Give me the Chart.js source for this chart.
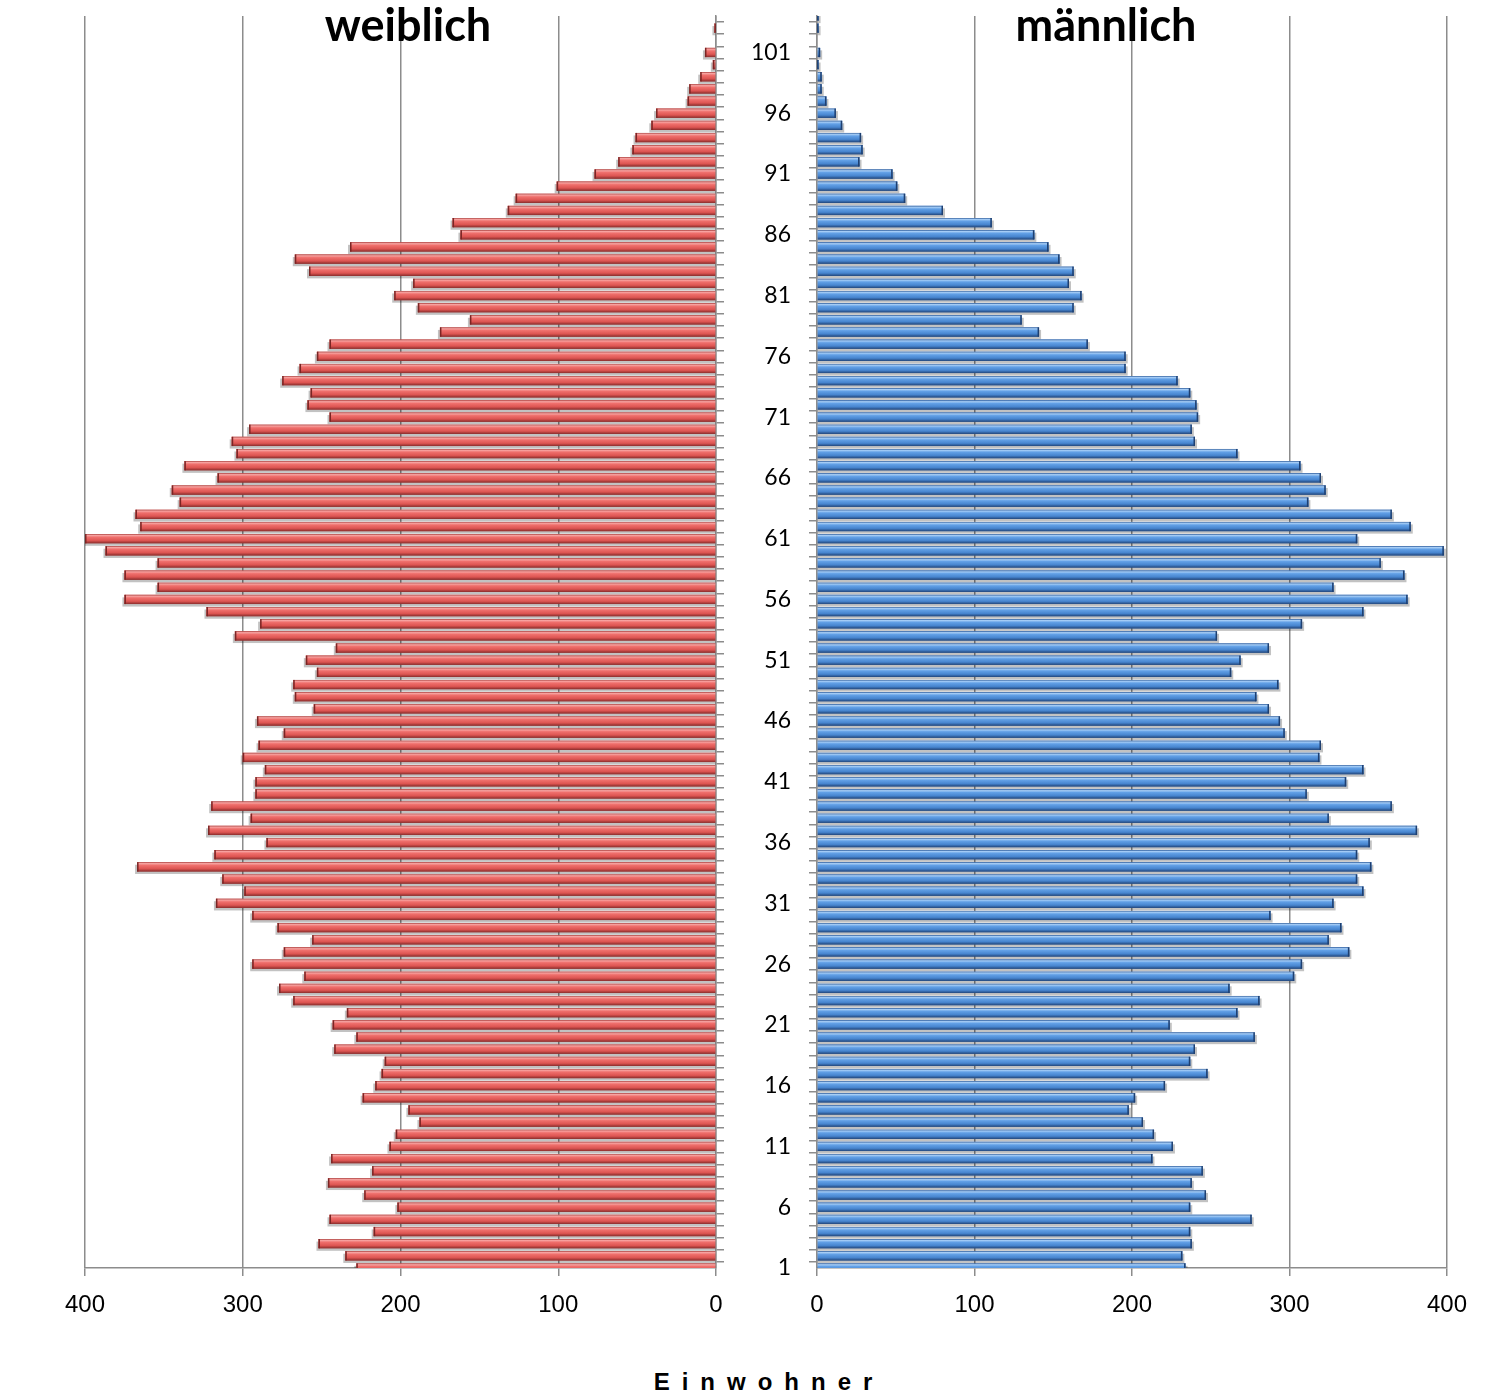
<!DOCTYPE html>
<html>
<head>
<meta charset="utf-8">
<title>Bevölkerungspyramide</title>
<script src="https://cdn.jsdelivr.net/npm/chart.js@4.4.1/dist/chart.umd.min.js"></script>
<style>
  html, body { margin: 0; padding: 0; background: #fff; }
  #page { position: relative; width: 1486px; height: 1398px; overflow: hidden; }
  .box { position: absolute; top: 0; height: 1340px; }
  #leftBox { left: 0; width: 740px; }
  #rightBox { left: 740px; width: 746px; }
  .sideTitle {
    position: absolute; top: -2px; transform: translateX(-50%);
    font-family: Lato, "Open Sans", sans-serif; font-weight: bold;
    font-size: 45px; line-height: 52px; color: #000; white-space: nowrap;
  }
  #axisTitle {
    position: absolute; left: 763px; top: 1367px; transform: translateX(-50%);
    font-family: "Liberation Sans", Arial, sans-serif; font-weight: bold;
    font-size: 24px; line-height: 30px; letter-spacing: 12px; padding-left: 12px;
    white-space: nowrap; color: #000;
  }
</style>
</head>
<body>
<div id="page">
  <div class="box" id="leftBox"><canvas id="femaleChart" width="740" height="1340"></canvas></div>
  <div class="box" id="rightBox"><canvas id="maleChart" width="746" height="1340"></canvas></div>
  <div class="sideTitle" style="left:408px">weiblich</div>
  <div class="sideTitle" style="left:1106px">männlich</div>
  <div id="axisTitle">Einwohner</div>
</div>
<script>
/* Alter 1 .. 104 */
const ages = [
  1, 2, 3, 4, 5, 6, 7, 8, 9, 10, 11, 12, 13, 14, 15, 16, 17, 18, 19, 20,
  21, 22, 23, 24, 25, 26, 27, 28, 29, 30, 31, 32, 33, 34, 35, 36, 37, 38, 39, 40,
  41, 42, 43, 44, 45, 46, 47, 48, 49, 50, 51, 52, 53, 54, 55, 56, 57, 58, 59, 60,
  61, 62, 63, 64, 65, 66, 67, 68, 69, 70, 71, 72, 73, 74, 75, 76, 77, 78, 79, 80,
  81, 82, 83, 84, 85, 86, 87, 88, 89, 90, 91, 92, 93, 94, 95, 96, 97, 98, 99, 100,
  101, 102, 103, 104,
];

/* Einwohner weiblich, Alter 1 .. 104 */
const female = [
  228, 235, 252, 217, 245, 202, 223, 246, 218, 244,
  207, 203, 188, 195, 224, 216, 212, 210, 242, 228,
  243, 234, 268, 277, 261, 294, 274, 256, 278, 294,
  317, 299, 313, 367, 318, 285, 322, 295, 320, 292,
  292, 286, 300, 290, 274, 291, 255, 267, 268, 253,
  260, 241, 305, 289, 323, 375, 354, 375, 354, 387,
  400, 365, 368, 340, 345, 316, 337, 304, 307, 296,
  245, 259, 257, 275, 264, 253, 245, 175, 156, 189,
  204, 192, 258, 267, 232, 162, 167, 132, 127, 101,
  77, 62, 53, 51, 41, 38, 18, 17, 10, 2,
  7, 0, 1, 0,
];

/* Einwohner männlich, Alter 1 .. 104 */
const male = [
  234, 232, 238, 237, 276, 237, 247, 238, 245, 213,
  226, 214, 207, 198, 202, 221, 248, 237, 240, 278,
  224, 267, 281, 262, 303, 308, 338, 325, 333, 288,
  328, 347, 343, 352, 343, 351, 381, 325, 365, 311,
  336, 347, 319, 320, 297, 294, 287, 279, 293, 263,
  269, 287, 254, 308, 347, 375, 328, 373, 358, 398,
  343, 377, 365, 312, 323, 320, 307, 267, 240, 238,
  242, 241, 237, 229, 196, 196, 172, 141, 130, 163,
  168, 160, 163, 154, 147, 138, 111, 80, 56, 51,
  48, 27, 29, 28, 16, 12, 6, 3, 3, 1,
  2, 0, 1, 1,
];

const GRID = "#8c8c8c";

/* Farbverlauf + Schatten wie bei den Excel-Balken */
const barLook = {
  id: "barLook",
  afterDatasetsDraw(chart, args, opts) {
    const { ctx, chartArea } = chart;
    const bars = chart.getDatasetMeta(0).data;
    ctx.save();
    ctx.beginPath();
    ctx.rect(chartArea.left, chartArea.top, chartArea.right - chartArea.left, chartArea.bottom - chartArea.top);
    ctx.clip();

    // Schatten
    ctx.fillStyle = "rgba(0,0,0,0.24)";
    bars.forEach((bar) => {
      const { x, y, base, height } = bar.getProps(["x", "y", "base", "height"], true);
      if (Math.abs(x - base) < 0.5) return;
      const l = Math.min(x, base), r = Math.max(x, base);
      const dx = opts.dir * 2;
      ctx.fillRect(l + (dx < 0 ? dx : 0), y - height / 2 + 2.5, r - l + Math.abs(dx), height);
    });

    // Balken
    bars.forEach((bar) => {
      const { x, y, base, height } = bar.getProps(["x", "y", "base", "height"], true);
      if (Math.abs(x - base) < 0.2) return;
      const top = y - height / 2;
      const g = ctx.createLinearGradient(0, top, 0, top + height);
      opts.stops.forEach((s) => g.addColorStop(s[0], s[1]));
      ctx.fillStyle = g;
      const l = Math.min(x, base), r = Math.max(x, base);
      ctx.fillRect(l, top, r - l, height);
      // dunkle Kante am äußeren Ende
      ctx.fillStyle = opts.edge;
      const ex = opts.dir < 0 ? l : r - 1.5;
      ctx.fillRect(ex, top, 1.5, height);
    });
    ctx.restore();
  },
};

function pyramidSide(canvasId, values, side) {
  const left = side === "left";
  const stops = left
    ? [[0, "#a8413f"], [0.14, "#f7a3a1"], [0.34, "#ef6f6c"], [0.7, "#dd5552"], [1, "#8a2d2c"]]
    : [[0, "#2d5a97"], [0.14, "#a6cdf6"], [0.34, "#62a0e6"], [0.7, "#4785cf"], [1, "#22467b"]];

  return new Chart(document.getElementById(canvasId), {
    type: "bar",
    data: {
      labels: ages,
      datasets: [
        {
          data: values,
          backgroundColor: left ? "#e05a58" : "#4a88d6",
          borderWidth: 0,
          barPercentage: 0.76,
          categoryPercentage: 1,
        },
      ],
    },
    options: {
      indexAxis: "y",
      responsive: false,
      maintainAspectRatio: false,
      animation: false,
      layout: {
        padding: left ? { left: 85, top: 16, right: 0, bottom: 0 } : { left: 0, top: 16, right: 39, bottom: 0 },
      },
      scales: {
        x: {
          reverse: left,
          min: 0,
          max: 400,
          ticks: {
            stepSize: 100,
            color: "#000",
            padding: 15,
            maxRotation: 0,
            font: { family: "'Liberation Sans', Arial, sans-serif", size: 24 },
          },
          grid: { color: GRID, lineWidth: 1.5, tickLength: 8, tickColor: GRID },
          border: { color: GRID, width: 1.5 },
          afterFit(scale) {
            scale.height = 72;
          },
        },
        y: {
          position: left ? "right" : "left",
          reverse: true,
          offset: false,
          ticks: {
            display: !left,
            autoSkip: false,
            color: "#000",
            padding: 18,
            font: { family: "Lato, 'Open Sans', sans-serif", size: 23 },
            callback(value, index) {
              const age = ages[index];
              return age % 5 === 1 ? String(age) : "";
            },
          },
          grid: { drawOnChartArea: false, tickLength: 8, color: GRID, lineWidth: 1.5 },
          border: { color: GRID, width: 1.5 },
          afterFit(scale) {
            scale.width = left ? 24 : 77;
            scale.paddingTop = 0;
            scale.paddingBottom = 0;
          },
        },
      },
      plugins: {
        legend: { display: false },
        tooltip: { enabled: false },
        barLook: { dir: left ? -1 : 1, stops: stops, edge: left ? "#7a2524" : "#1e3f70" },
      },
    },
    plugins: [barLook],
  });
}

const femaleChart = pyramidSide("femaleChart", female, "left");
const maleChart = pyramidSide("maleChart", male, "right");
</script>
</body>
</html>
